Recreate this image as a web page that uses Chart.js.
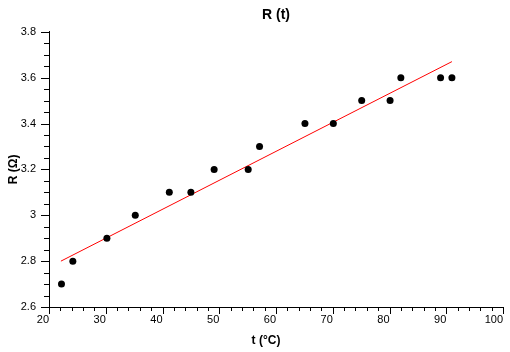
<!DOCTYPE html>
<html>
<head>
<meta charset="utf-8">
<script src="https://cdn.jsdelivr.net/npm/chart.js@4.4.0/dist/chart.umd.min.js"></script>
<style>
  html, body { margin: 0; padding: 0; background: #fff; }
</style>
</head>
<body>
<canvas id="rChart" width="510" height="352"></canvas>
<script>
// measured points, t in °C and R in ohm
const tValues = [22.2, 24.2, 30.2, 35.2, 41.2, 45.0, 49.1, 55.1, 57.1, 65.1, 70.1, 75.1, 80.1, 82.0, 89.0, 91.0];
const rValues = [2.7, 2.8, 2.9, 3.0, 3.1, 3.1, 3.2, 3.2, 3.3, 3.4, 3.4, 3.5, 3.5, 3.6, 3.6, 3.6];

// fitted line end points
const fitT = [22.1, 91.0];
const fitR = [2.80, 3.67];

// axis ticks
const xTicks = [20, 30, 40, 50, 60, 70, 80, 90, 100];
const yTicks = [2.6, 2.8, 3.0, 3.2, 3.4, 3.6, 3.8];
const xMinorPerMajor = 5;
const yMinorPerMajor = 4;

const FONT = "Arial, 'Liberation Sans', Helvetica, sans-serif";
Chart.defaults.font.family = FONT;
Chart.defaults.color = '#000';

// minor/major tick marks drawn along the axes
const tickMarks = {
  id: 'tickMarks',
  afterDraw(chart) {
    const { ctx } = chart;
    const xs = chart.scales.x, ys = chart.scales.y;
    ctx.save();
    ctx.strokeStyle = '#000';
    ctx.lineWidth = 1;
    ctx.beginPath();
    const xStep = (xTicks[1] - xTicks[0]) / xMinorPerMajor;
    const xCount = (xTicks.length - 1) * xMinorPerMajor;
    for (let i = 0; i <= xCount; i++) {
      const px = Math.round(xs.getPixelForValue(xTicks[0] + i * xStep)) + 0.5;
      const len = i % xMinorPerMajor === 0 ? 7 : 4;
      ctx.moveTo(px, xs.top);
      ctx.lineTo(px, xs.top + len);
    }
    const yStep = (yTicks[1] - yTicks[0]) / yMinorPerMajor;
    const yCount = (yTicks.length - 1) * yMinorPerMajor;
    for (let i = 0; i <= yCount; i++) {
      const py = Math.round(ys.getPixelForValue(yTicks[0] + i * yStep)) + 0.5;
      const len = i % yMinorPerMajor === 0 ? 8 : 5;
      ctx.moveTo(ys.right, py);
      ctx.lineTo(ys.right - len, py);
    }
    ctx.stroke();

    // x axis title, a bit left of the plot centre as in the original
    ctx.font = 'bold 12px ' + FONT;
    ctx.fillStyle = '#000';
    ctx.textAlign = 'center';
    ctx.textBaseline = 'middle';
    ctx.fillText('t (°C)', (chart.chartArea.left + chart.chartArea.right) / 2 - 10, 341);
    ctx.restore();
  }
};

new Chart(document.getElementById('rChart'), {
  type: 'scatter',
  data: {
    datasets: [
      {
        label: 'R',
        data: tValues.map((t, i) => ({ x: t, y: rValues[i] })),
        pointRadius: 3.5,
        pointHoverRadius: 3.5,
        backgroundColor: '#000',
        borderWidth: 0
      },
      {
        label: 'fit',
        data: fitT.map((t, i) => ({ x: t, y: fitR[i] })),
        showLine: true,
        pointRadius: 0,
        borderColor: '#ff0000',
        borderWidth: 1
      }
    ]
  },
  options: {
    responsive: false,
    animation: false,
    layout: { padding: { left: 0, right: 7, top: 0, bottom: 0 } },
    plugins: {
      legend: { display: false },
      tooltip: { enabled: false },
      title: {
        display: true,
        text: 'R (t)',
        fullSize: false,
        color: '#000',
        font: { size: 14, weight: 'bold' },
        padding: { top: 7, bottom: 8 }
      }
    },
    scales: {
      x: {
        type: 'linear',
        min: xTicks[0],
        max: xTicks[xTicks.length - 1],
        afterBuildTicks: s => { s.ticks = xTicks.map(v => ({ value: v })); },
        afterFit: s => { s.height = 45; s.paddingLeft = 0; s.paddingRight = 0; },
        grid: { display: false, drawTicks: false },
        border: { display: true, color: '#000', width: 1 },
        ticks: {
          align: 'end',
          padding: 6,
          maxRotation: 0,
          autoSkip: false,
          font: { size: 11 },
          callback: v => String(v)
        }
      },
      y: {
        type: 'linear',
        min: yTicks[0],
        max: yTicks[yTicks.length - 1],
        afterBuildTicks: s => { s.ticks = yTicks.map(v => ({ value: v })); },
        afterFit: s => { s.width = 49; },
        grid: { display: false, drawTicks: false },
        border: { display: true, color: '#000', width: 1 },
        ticks: {
          padding: 13,
          autoSkip: false,
          font: { size: 11 },
          callback: v => String(Number(v.toFixed(1)))
        },
        title: {
          display: true,
          text: 'R (Ω)',
          font: { size: 12, weight: 'bold' },
          padding: { top: 6, bottom: 0 }
        }
      }
    }
  },
  plugins: [tickMarks]
});
</script>
</body>
</html>
